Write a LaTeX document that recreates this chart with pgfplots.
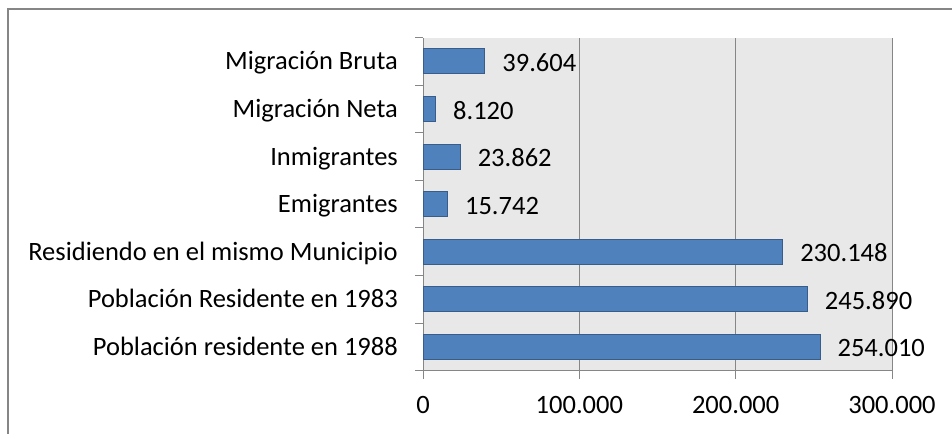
\documentclass[border=0pt]{standalone}
\usepackage{pgfplots}
\pgfplotsset{compat=1.18}
\usepackage{fontspec}
\setmainfont{Carlito}
\definecolor{barfill}{HTML}{4F81BD}
\definecolor{barline}{HTML}{385D8A}
\definecolor{axgray}{HTML}{868686}
\definecolor{plotbg}{HTML}{E8E8E8}
\newcommand{\chartfont}{\fontsize{26.5bp}{31bp}\selectfont}
\pgfplotstableread[col sep=comma]{
x,y,label
254010,0,254.010
245890,1,245.890
230148,2,230.148
15742,3,15.742
23862,4,23.862
8120,5,8.120
39604,6,39.604
}\datatable
\begin{document}
\chartfont
\begin{tikzpicture}[x=1bp,y=1bp]
\useasboundingbox (0,0) rectangle (952,434);
\draw[axgray, line width=1.5bp] (8,-20) -- (8,425) -- (990,425);
\begin{axis}[
  at={(423bp,63.3bp)}, anchor=south west,
  width=469bp, height=333bp, scale only axis,
  xmin=0, xmax=300000, ymin=-0.5, ymax=6.5,
  axis x line*=bottom, axis y line*=left,
  axis line style={axgray, line width=1bp},
  axis background/.style={fill=plotbg},
  xtick={0,100000,200000,300000},
  xticklabels={0,100.000,200.000,300.000},
  tick align=outside, major tick length=8bp,
  tick style={axgray, line width=1bp},
  xmajorgrids, grid style={axgray, line width=1bp},
  ytick={-0.5,0.5,1.5,2.5,3.5,4.5,5.5,6.5},
  yticklabels={},
  extra y ticks={0,1,2,3,4,5,6},
  extra y tick labels={Población residente en 1988,Población Residente en 1983,Residiendo en el mismo Municipio,Emigrantes,Inmigrantes,Migración Neta,Migración Bruta},
  extra y tick style={major tick length=0pt, yticklabel style={anchor=base east, inner sep=0pt, xshift=-25bp, yshift=-8.5bp}},
  xticklabel style={anchor=north, inner sep=0pt, yshift=-17bp},
  every tick label/.append style={font=\chartfont, text=black},
  clip=false,
]
\addplot[xbar, bar width=25bp, fill=barfill, draw=barline, line width=1bp,
  point meta=explicit symbolic, nodes near coords,
  every node near coord/.append style={anchor=base west, inner sep=0pt, xshift=17bp, yshift=-10bp, text=black, font=\chartfont}]
  table[x=x, y=y, meta=label] {\datatable};
\end{axis}
\end{tikzpicture}
\end{document}
